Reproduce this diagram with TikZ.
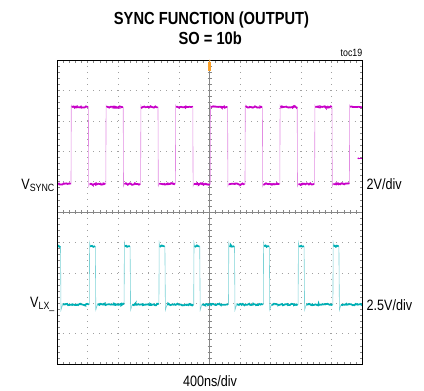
\documentclass[tikz,border=0pt]{standalone}
\usepackage{fontspec}
\setmainfont{Liberation Sans}[FakeStretch=0.84]
\usetikzlibrary{decorations.pathmorphing}
\definecolor{mag}{RGB}{200,0,200}
\definecolor{magedge}{RGB}{226,140,226}
\definecolor{cya}{RGB}{0,175,180}
\definecolor{cyaedge}{RGB}{125,210,214}
\definecolor{gridgray}{RGB}{160,160,160}
\definecolor{centergray}{RGB}{135,135,135}
\definecolor{trigorange}{RGB}{250,160,40}
\tikzset{
  gridline/.style={gridgray, line width=0.6pt, dash pattern=on 0.7pt off 5.38pt},
  centerline/.style={centergray, line width=0.5pt},
  tickmark/.style={centergray, line width=0.4pt},
  frameline/.style={black, line width=0.8pt},
  magedgeline/.style={magedge, line width=0.6pt},
  magplat/.style={mag, line width=1.7pt, decorate, decoration={random steps, segment length=1.1pt, amplitude=0.8pt}},
  cyaedgeline/.style={cyaedge, line width=0.6pt},
  cyaplat/.style={cya, line width=1.7pt, decorate, decoration={random steps, segment length=1.1pt, amplitude=0.8pt}},
  lbl/.style={inner sep=0pt, font=\fontsize{15}{18}\selectfont},
  title/.style={inner sep=0pt, font=\fontsize{17.5}{21}\selectfont\bfseries},
}
\begin{document}
\begin{tikzpicture}[x=1pt,y=-1pt]
\useasboundingbox (0,0) rectangle (424,391);
\pgfmathsetmacro{\P}{34.8}
% grid
\foreach \i in {1,2,3,4,6,7,8,9} {
  \draw[gridline, dash phase=0.35pt] ({57+\i*30.5},60) -- ({57+\i*30.5},364);
  \draw[gridline, dash phase=0.35pt] (57,{60+\i*30.4}) -- (362,{60+\i*30.4});
}
% center lines
\draw[centerline] (209.5,60) -- (209.5,364);
\draw[centerline] (57,212) -- (362,212);
% ticks
\foreach \i in {1,...,49} {
  \draw[tickmark] ({57+\i*6.1},60) -- ({57+\i*6.1},62.5);
  \draw[tickmark] ({57+\i*6.1},364) -- ({57+\i*6.1},361.5);
  \draw[tickmark] ({57+\i*6.1},210) -- ({57+\i*6.1},214);
  \draw[tickmark] (57,{60+\i*6.08}) -- (59.5,{60+\i*6.08});
  \draw[tickmark] (362,{60+\i*6.08}) -- (359.5,{60+\i*6.08});
  \draw[tickmark] (207.5,{60+\i*6.08}) -- (211.5,{60+\i*6.08});
}
\begin{scope}
\clip (57,60) rectangle (362,364);
% magenta trace (V_SYNC)
\draw[magedgeline] (50,184)
  \foreach \k in {0,...,8} {
    -- ({71+\k*\P},184) -- ({71.3+\k*\P},105.5) -- ({72+\k*\P},107) -- ({88.4+\k*\P},107) -- ({88.7+\k*\P},186) -- ({89.5+\k*\P},184)
  } -- (370,184);
\draw[magplat] (57.5,184) -- (70.5,184);
\foreach \k in {0,...,8} {
  \draw[magplat] ({71.8+\k*\P},107) -- ({88+\k*\P},107);
}
\foreach \k in {1,...,8} {
  \draw[magplat] ({89.8+(\k-1)*\P},184) -- ({70.5+\k*\P},184);
}
% cyan trace (V_LX_)
\draw[cyaedgeline] (50,304.5)
  \foreach \k in {-1,...,7} {
    -- ({89.3+\k*\P},304.5) -- ({89.6+\k*\P},243) -- ({90.3+\k*\P},246.5) -- ({95.3+\k*\P},246.5) -- ({95.8+\k*\P},310) -- ({97.3+\k*\P},305)
  } -- (370,304.5);
\foreach \k in {-1,...,7} {
  \draw[cyaplat] ({90.2+\k*\P},246.2) -- ({95+\k*\P},246.2);
  \draw[cyaplat] ({97.5+\k*\P},304.5) -- ({88.8+(\k+1)*\P},304.5);
}
\end{scope}
% frame
\draw[frameline] (57,60) rectangle (362,364);
% markers
\fill[trigorange] (208.3,62) rectangle (211.3,70.5);
\fill[trigorange] (209.8,60.5) circle (0.9pt);
\draw[mag, line width=0.7pt] (357.5,158.3) -- (361.5,158.3);
\fill[mag] (358.3,158.3) circle (0.9pt);
% texts
\node[title, anchor=base] (t1) at (211.5,24) {SYNC FUNCTION (OUTPUT)};
\node[title, anchor=base] (t2) at (210.2,44) {SO = 10b};
\node[inner sep=0pt, anchor=base east, font=\fontsize{10.5}{12}\selectfont] (toc) at (362.5,56.5) {toc19};
\node[lbl, anchor=base east] (vsync) at (54.5,189) {V\raisebox{-2.7pt}{\fontsize{10.5}{12}\selectfont SYNC}};
\node[lbl, anchor=base east] (vlx) at (54.5,307.3) {V\raisebox{-2.2pt}{\fontsize{10.5}{12}\selectfont LX\_}};
\node[lbl, anchor=base west] (s1) at (366.5,189.3) {2V/div};
\node[lbl, anchor=base west] (s2) at (366.5,310) {2.5V/div};
\node[lbl, anchor=base] (tb) at (210,386.5) {400ns/div};
\end{tikzpicture}
\end{document}
